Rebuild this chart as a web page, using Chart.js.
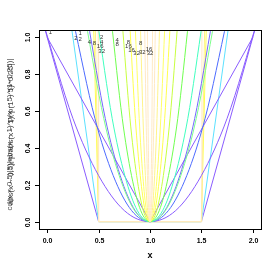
<!DOCTYPE html>
<html>
<head>
<meta charset="utf-8">
<script src="https://cdn.jsdelivr.net/npm/chart.js@4/dist/chart.umd.min.js"></script>
<style>
  html, body { margin: 0; padding: 0; background: #fff; }
</style>
</head>
<body>
<canvas id="chart" width="269" height="269"></canvas>
<script>
// axis ticks
const xTicks = [0, 0.5, 1, 1.5, 2]
const xTickLabels = ['0.0', '0.5', '1.0', '1.5', '2.0']
const yTicks = [0, 0.2, 0.4, 0.6, 0.8, 1]
const yTickLabels = ['0.0', '0.2', '0.4', '0.6', '0.8', '1.0']

// bowls around x = 1, x positions where each curve meets these heights
const bowlLevels = [1.1, 0.56, 0.25, 0.06, 0, 0.06, 0.25, 0.56, 1.1]
const bowlPurple  = [-0.05, 0.25, 0.5, 0.75, 1, 1.25, 1.5, 1.75, 2.05]
const bowlViolet  = [0.391, 0.565, 0.71, 0.855, 1, 1.145, 1.29, 1.435, 1.609]
const bowlBlue    = [0.249, 0.464, 0.642, 0.821, 1, 1.179, 1.358, 1.536, 1.751]
const bowlMint    = [0.37, 0.55, 0.70, 0.85, 1, 1.15, 1.30, 1.45, 1.63]
const bowlTeal    = [0.485, 0.632, 0.755, 0.877, 1, 1.123, 1.245, 1.368, 1.515]
const bowlGreen   = [0.622, 0.73, 0.82, 0.91, 1, 1.09, 1.18, 1.27, 1.378]
const bowlLime    = [0.727, 0.805, 0.87, 0.935, 1, 1.065, 1.13, 1.195, 1.273]
const bowlYellow  = [0.8, 0.857, 0.905, 0.952, 1, 1.048, 1.095, 1.143, 1.2]
const bowlYellow2 = [0.853, 0.895, 0.93, 0.965, 1, 1.035, 1.07, 1.105, 1.147]
const bowlPale    = [0.905, 0.932, 0.955, 0.977, 1, 1.023, 1.045, 1.068, 1.095]
const bowlCream   = [0.947, 0.962, 0.975, 0.987, 1, 1.013, 1.025, 1.038, 1.053]
const bowlCream2  = [0.974, 0.981, 0.988, 0.994, 1, 1.006, 1.012, 1.019, 1.026]

// the plain V
const vLineX = [0, 1, 2]
const vLineY = [1, 0, 1]

// ramps leaving 0.5 and 1.5, flat at zero in between
const rampLevels = [1.06, 0, 0, 1.06]
const rampPurple = [-0.03, 0.5, 1.5, 2.03]
const rampCyan   = [0.235, 0.5, 1.5, 1.765]
const rampYellow = [0.452, 0.5, 1.5, 1.548]
const rampPale   = [0.468, 0.5, 1.5, 1.532]
const rampCream  = [0.495, 0.5, 1.5, 1.505]

// little labels at the top
const noteText = ['1', '2', '1', '2', '4', '8', '2', '4', '16', '32', '4', '8', '8', '16', '16', '32', '8', '32', '16', '32']
const noteX    = [0.03, 0.28, 0.32, 0.32, 0.41, 0.46, 0.53, 0.53, 0.515, 0.53, 0.68, 0.68, 0.79, 0.79, 0.82, 0.87, 0.91, 0.925, 0.99, 1.0]
const noteY    = [1.025, 0.995, 1.02, 0.99, 0.975, 0.965, 1.0, 0.975, 0.95, 0.925, 0.985, 0.96, 0.975, 0.95, 0.93, 0.915, 0.965, 0.92, 0.935, 0.915]

const yTitles = ['cd(x \u00d7 0.5)|5)|abs(x \u2212 1)^p(x \u2212 5)^(1\u22120.25)|',
                 'abs(x \u2212 0.5)^p/abs(x \u2212 1)^p(1 \u2212 5)^0.25|']

function pts(xs, ys) {
    return xs.map((x, i) => ({x: x, y: ys[i]}))
}

function curve(xs, ys, color, smooth) {
    return {
        data: pts(xs, ys),
        borderColor: color,
        borderWidth: 1,
        pointRadius: 0,
        showLine: true,
        fill: false,
        tension: 0,
        cubicInterpolationMode: smooth ? 'monotone' : 'default'
    }
}

// listed bottom first
const datasets = [
    curve(rampPurple, rampLevels, '#8a5cff', false),
    curve(rampCyan, rampLevels, '#5ce1ff', false),
    curve(rampYellow, rampLevels, '#ffff4d', false),
    curve(rampPale, rampLevels, '#fff38a', false),
    curve(rampCream, rampLevels, '#ffe9c4', false),
    curve(vLineX, vLineY, '#8a5cff', false),
    curve(bowlPurple, bowlLevels, '#8a5cff', true),
    curve(bowlViolet, bowlLevels, '#7468ff', true),
    curve(bowlBlue, bowlLevels, '#4d6bff', true),
    curve(bowlMint, bowlLevels, '#7dff8c', true),
    curve(bowlTeal, bowlLevels, '#40ffbf', true),
    curve(bowlGreen, bowlLevels, '#70ff50', true),
    curve(bowlLime, bowlLevels, '#c8ff40', true),
    curve(bowlYellow, bowlLevels, '#ffff4d', true),
    curve(bowlYellow2, bowlLevels, '#ffff66', true),
    curve(bowlPale, bowlLevels, '#fff38a', true),
    curve(bowlCream, bowlLevels, '#ffe9c4', true),
    curve(bowlCream2, bowlLevels, '#ffe9c4', true)
]
datasets.forEach((d, i) => { d.order = datasets.length - i })

const font = '"Liberation Sans", Arial, sans-serif'

// box, ticks, labels drawn R style
const frame = {
    id: 'frame',
    afterDraw(chart) {
        const {ctx, chartArea: a, scales: {x, y}} = chart
        ctx.save()
        ctx.strokeStyle = '#000'
        ctx.lineWidth = 1
        ctx.strokeRect(a.left + 0.5, a.top + 0.5, a.right - a.left, a.bottom - a.top)

        ctx.fillStyle = '#000'
        ctx.font = 'bold 7px ' + font
        ctx.textAlign = 'center'
        ctx.textBaseline = 'middle'
        xTicks.forEach((v, i) => {
            const px = Math.round(x.getPixelForValue(v)) + 0.5
            ctx.beginPath()
            ctx.moveTo(px, a.bottom)
            ctx.lineTo(px, a.bottom + 4)
            ctx.stroke()
            ctx.fillText(xTickLabels[i], px, a.bottom + 12)
        })
        yTicks.forEach((v, i) => {
            const py = Math.round(y.getPixelForValue(v)) + 0.5
            ctx.beginPath()
            ctx.moveTo(a.left, py)
            ctx.lineTo(a.left - 4, py)
            ctx.stroke()
            ctx.save()
            ctx.translate(a.left - 11, py)
            ctx.rotate(-Math.PI / 2)
            ctx.fillText(yTickLabels[i], 0, 0)
            ctx.restore()
        })

        ctx.font = 'bold 9px ' + font
        ctx.fillText('x', (a.left + a.right) / 2, a.bottom + 27)

        ctx.font = '8px ' + font
        ctx.fillStyle = 'rgba(0,0,0,0.75)'
        yTitles.forEach((t, i) => {
            ctx.save()
            ctx.translate(10 + i, (a.top + a.bottom) / 2 + 5)
            ctx.rotate(-Math.PI / 2)
            ctx.fillText(t, 0, 0)
            ctx.restore()
        })

        // notes at the top
        ctx.fillStyle = '#333'
        ctx.font = '6px ' + font
        noteText.forEach((t, i) => {
            ctx.fillText(t, x.getPixelForValue(noteX[i]), y.getPixelForValue(noteY[i]))
        })
        ctx.restore()
    }
}

new Chart(document.getElementById('chart'), {
    type: 'scatter',
    data: {datasets},
    options: {
        responsive: false,
        animation: false,
        layout: {padding: {left: 39, right: 8, top: 30, bottom: 40}},
        scales: {
            x: {type: 'linear', min: -0.08, max: 2.08, display: false},
            y: {type: 'linear', min: -0.04, max: 1.04, display: false}
        },
        plugins: {legend: {display: false}, tooltip: {enabled: false}}
    },
    plugins: [frame]
})
</script>
</body>
</html>
